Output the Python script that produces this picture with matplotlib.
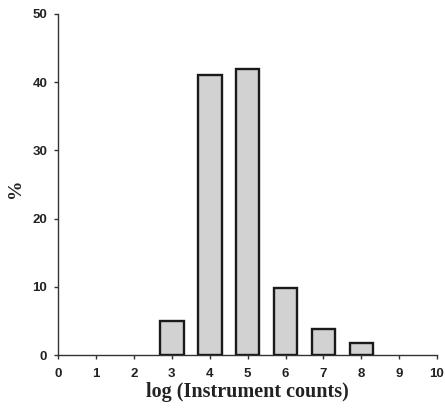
import matplotlib.pyplot as plt

# log(instrument counts) classes and percentage of samples
log_counts = [3, 4, 5, 6, 7, 8]
percent = [5, 41, 42, 9.9, 3.8, 1.8]
x_ticks = list(range(0, 11))
y_ticks = [0, 10, 20, 30, 40, 50]

fig = plt.figure(figsize=(4.45, 4.11), dpi=100)
ax = fig.add_axes([0.131, 0.136, 0.851, 0.830])

ax.bar(log_counts, percent, width=0.62, color='#d2d2d2',
       edgecolor='#1a1a1a', linewidth=1.7, zorder=3)

ax.set_xlim(0, 10)
ax.set_ylim(0, 50)
ax.set_xticks(x_ticks)
ax.set_yticks(y_ticks)

# only left and bottom axis lines
ax.spines['top'].set_visible(False)
ax.spines['right'].set_visible(False)
for s in ['left', 'bottom']:
    ax.spines[s].set_color('#333333')
    ax.spines[s].set_linewidth(1.0)

ax.tick_params(direction='out', length=3, width=1, color='#333333',
               labelsize=9.5)
ax.tick_params(axis='x', pad=6)
ax.tick_params(axis='y', pad=5)
for lab in ax.get_xticklabels() + ax.get_yticklabels():
    lab.set_family('Liberation Sans')
    lab.set_fontweight('bold')
    lab.set_color('#222222')

ax.set_xlabel('log (Instrument counts)', family='Liberation Serif',
              fontweight='bold', fontsize=14.5, color='#222222')
ax.set_ylabel('%', family='Liberation Serif', fontweight='bold',
              fontsize=14, color='#222222')
ax.xaxis.set_label_coords(0.5, -0.08)
ax.yaxis.set_label_coords(-0.09, 0.49)

plt.savefig('out.png', dpi=100)
